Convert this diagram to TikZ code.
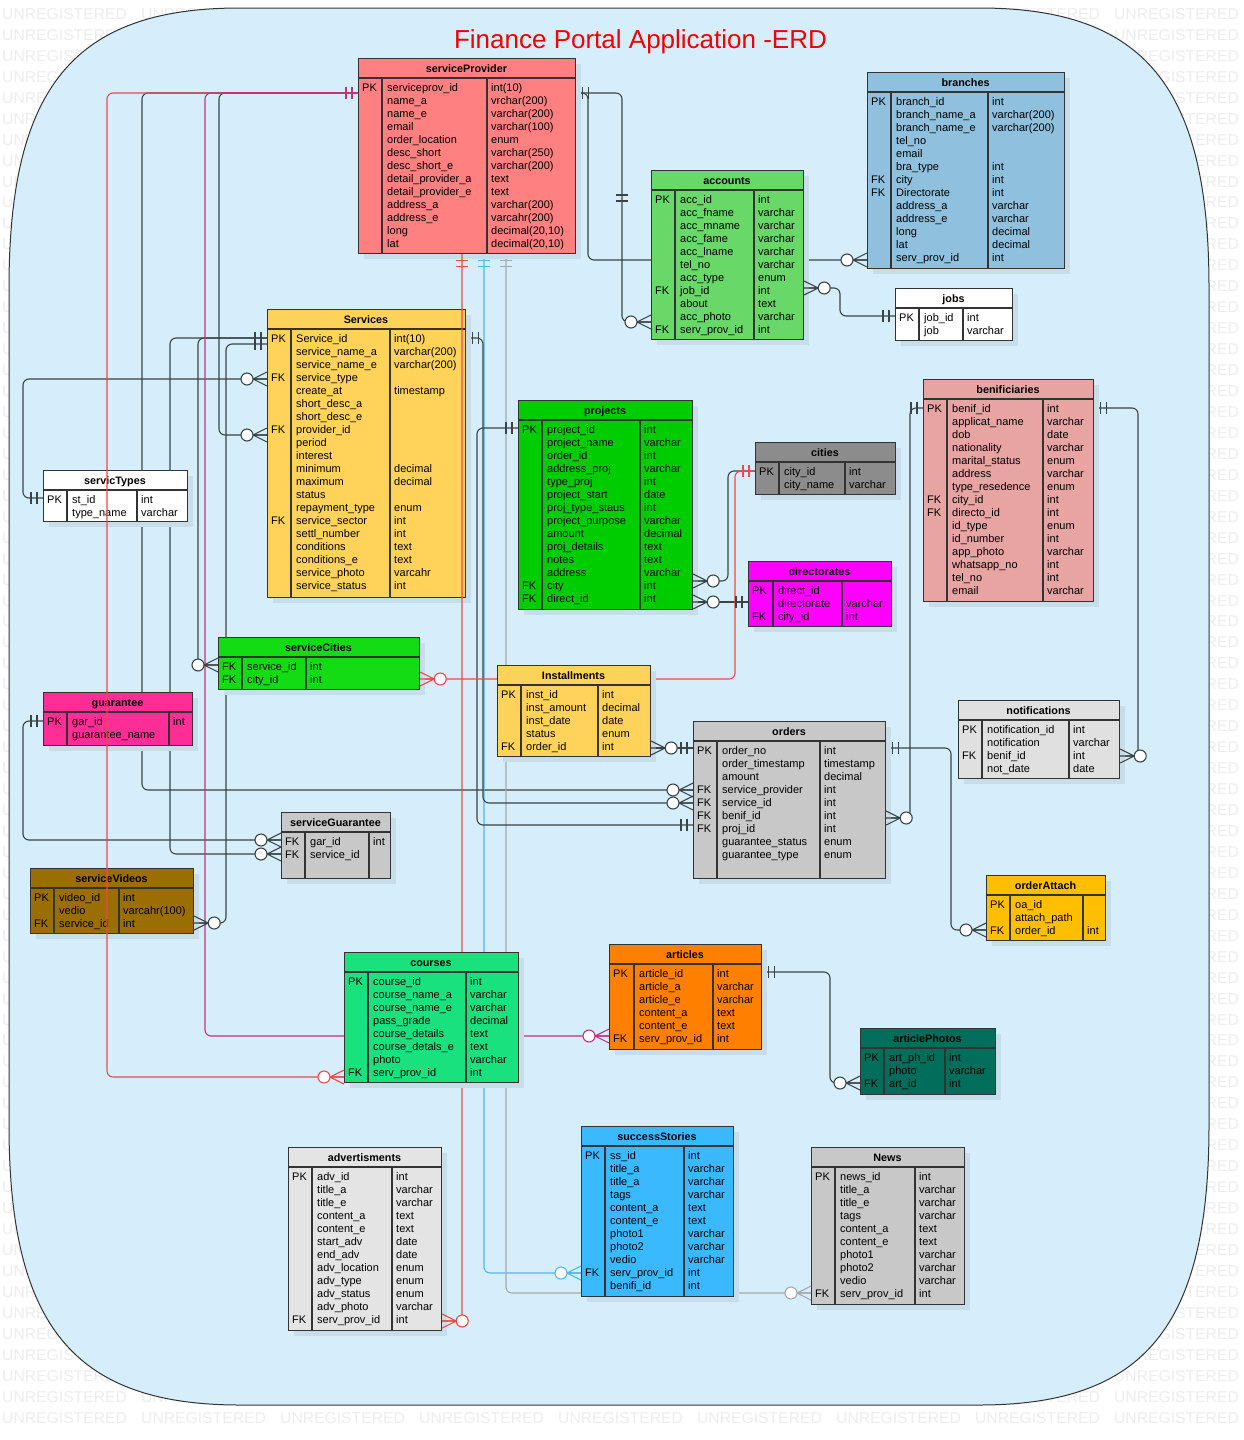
\documentclass[tikz,border=0pt]{standalone}
\usepackage{fontspec}
\setmainfont{Liberation Sans}
\usetikzlibrary{calc}
\pgfdeclarelayer{back}
\pgfdeclarelayer{bg}
\pgfdeclarelayer{over}
\pgfdeclarelayer{top}
\pgfsetlayers{back,bg,main,over,top}
\definecolor{bgblue}{HTML}{D6EEFC}
\definecolor{bordc}{HTML}{333333}
\definecolor{wmc}{HTML}{EDEDED}
\definecolor{shadowc}{HTML}{C8DDEA}
\definecolor{tblc}{HTML}{333333}
\definecolor{cLine}{HTML}{3A4444}
\definecolor{cRed}{HTML}{F04848}
\definecolor{cMag}{HTML}{C8307F}
\definecolor{cBlue}{HTML}{4DB8F5}
\definecolor{cGray}{HTML}{A8A8A8}
\definecolor{cTitle}{HTML}{F00000}
\definecolor{cSP}{HTML}{FF8080}
\definecolor{cACC}{HTML}{68D868}
\definecolor{cBR}{HTML}{8FC1DE}
\definecolor{cSRV}{HTML}{FFD35A}
\definecolor{cPRJ}{HTML}{00CD00}
\definecolor{cCIT}{HTML}{8C8C8C}
\definecolor{cDIR}{HTML}{FF00FF}
\definecolor{cBEN}{HTML}{E8A3A3}
\definecolor{cSC}{HTML}{14DC14}
\definecolor{cGAR}{HTML}{FF2D96}
\definecolor{cORD}{HTML}{C8C8C8}
\definecolor{cNTF}{HTML}{E0E0E0}
\definecolor{cSV}{HTML}{9A6E00}
\definecolor{cOA}{HTML}{FFBF00}
\definecolor{cCRS}{HTML}{19E17D}
\definecolor{cART}{HTML}{FF8000}
\definecolor{cAP}{HTML}{006E5A}
\definecolor{cADV}{HTML}{E4E4E4}
\definecolor{cSS}{HTML}{3BB9FF}
\newcommand\cma{,}
\newcommand\wmword{\makebox[139pt][l]{UNREGISTERED}}
\newcommand\wmrow{\wmword\wmword\wmword\wmword\wmword\wmword\wmword\wmword\wmword}
\tikzset{
  tblbox/.style={draw=tblc, line width=1.2pt, inner sep=0pt},
  tblln/.style={draw=tblc, line width=1.1pt},
  cell/.style={inner sep=0pt, font=\fontsize{11}{13}\selectfont},
  ttl/.style={inner sep=0pt, font=\fontsize{10.8}{13}\selectfont\bfseries},
  wm/.style={inner sep=0pt, text=wmc, font=\fontsize{15.7}{16}\selectfont},
  conn/.style={line width=1.1pt, rounded corners=6pt, draw=cLine},
  mk/.style={line width=1.1pt},
  oneL/.pic={\draw[mk] (-6,-6)--(-6,6) (-12,-6)--(-12,6);},
  oneR/.pic={\draw[mk] (6,-6)--(6,6) (12,-6)--(12,6);},
  oneD/.pic={\draw[mk] (-6,6)--(6,6) (-6,12)--(6,12);},
  oneV/.pic={\draw[mk] (-6,-3)--(6,-3) (-6,3)--(6,3);},
  manyL/.pic={\draw[mk] (0,-7)--(-14,0)--(0,7) (-14,0)--(0,0); \filldraw[mk,fill=white] (-20,0) circle[radius=6pt];},
  manyR/.pic={\draw[mk] (0,-7)--(14,0)--(0,7) (14,0)--(0,0); \filldraw[mk,fill=white] (20,0) circle[radius=6pt];},
}
% name, x, y, width, divider1, divider2, height, fill, title
\newcommand\erdtbl[9]{%
  \def\tx{#2}\def\ty{#3}\def\tda{#5}\def\tdb{#6}\def\tn{#1}%
  \fill[shadowc] (#2+6,#3+6) rectangle ++(#4,#7);
  \node[tblbox, fill=#8, minimum width=#4pt, minimum height=#7pt, anchor=north west] (#1) at (#2,#3) {};
  \node[ttl, anchor=base] (#1-title) at (#2+#4/2,#3+14) {#9};
  \draw[tblln] (#2,#3+20) -- ++(#4,0);
  \draw[tblln] (#2+#5,#3+20) -- ++(0,#7-20);
  \draw[tblln] (#2+#6,#3+20) -- ++(0,#7-20);
}
\newcommand\erdrows[1]{%
  \foreach \rK/\rF/\rT [count=\i from 0] in {#1}{%
    \node[cell,anchor=base west] (\tn-k\i) at (\tx+4,\ty+33+\i*13) {\rK};
    \node[cell,anchor=base west] (\tn-f\i) at (\tx+\tda+5,\ty+33+\i*13) {\rF};
    \node[cell,anchor=base west] (\tn-t\i) at (\tx+\tdb+4,\ty+33+\i*13) {\rT};
  }%
}
\begin{document}
\catcode`\_=12
\begin{tikzpicture}[x=1pt,y=-1pt]
\useasboundingbox (0,0) rectangle (1244,1440);
% ---------- background ----------
\begin{pgfonlayer}{back}
\fill[white] (0,0) rectangle (1244,1440);
\foreach \r in {0,...,67}{\node[wm, anchor=west] (wm\r) at (2,14+20.95*\r) {\wmrow};}
\draw[fill=bgblue, draw=bordc, line width=1pt]
  (240,8) -- (979,8) .. controls (1144.6,8) and (1209,86.4) .. (1209,288)
  -- (1209,1125) .. controls (1209,1326.6) and (1144.6,1405) .. (979,1405)
  -- (240,1405) .. controls (74.4,1405) and (9,1326.6) .. (9,1125)
  -- (9,288) .. controls (9,86.4) and (74.4,8) .. (240,8) -- cycle;
\node[inner sep=0pt, text=cTitle, font=\fontsize{26}{30}\selectfont, anchor=base] (title) at (640.5,48) {Finance Portal Application -ERD};
\end{pgfonlayer}
% ---------- tables ----------
\erdtbl{sp}{358}{58}{217}{24}{129}{195}{cSP}{serviceProvider}
\erdrows{PK/serviceprov_id/int(10), /name_a/vrchar(200), /name_e/varchar(200), /email/varchar(100), /order_location/enum, /desc_short/varchar(250), /desc_short_e/varchar(200), /detail_provider_a/text, /detail_provider_e/text, /address_a/varchar(200), /address_e/varcahr(200), /long/decimal(20\cma10), /lat/decimal(20\cma10)}
\erdtbl{acc}{651}{170}{152}{24}{103}{169}{cACC}{accounts}
\erdrows{PK/acc_id/int, /acc_fname/varchar, /acc_mname/varchar, /acc_fame/varchar, /acc_lname/varchar, /tel_no/varchar, /acc_type/enum, FK/job_id/int, /about/text, /acc_photo/varchar, FK/serv_prov_id/int}
\erdtbl{br}{867}{72}{197}{24}{121}{196}{cBR}{branches}
\erdrows{PK/branch_id/int, /branch_name_a/varchar(200), /branch_name_e/varchar(200), /tel_no/, /email/, /bra_type/int, FK/city/int, FK/Directorate/int, /address_a/varchar, /address_e/varchar, /long/decimal, /lat/decimal, /serv_prov_id/int}
\erdtbl{jobs}{895}{288}{117}{24}{68}{52}{white}{jobs}
\erdrows{PK/job_id/int, /job/varchar}
\erdtbl{srv}{267}{309}{198}{24}{123}{288}{cSRV}{Services}
\erdrows{PK/Service_id/int(10), /service_name_a/varchar(200), /service_name_e/varchar(200), FK/service_type/, /create_at/timestamp, /short_desc_a/, /short_desc_e/, FK/provider_id/, /period/, /interest/, /minimum/decimal, /maximum/decimal, /status/, /repayment_type/enum, FK/service_sector/int, /settl_number/int, /conditions/text, /conditions_e/text, /service_photo/varcahr, /service_status/int}
\erdtbl{st}{43}{470}{144}{24}{94}{51}{white}{servicTypes}
\erdrows{PK/st_id/int, /type_name/varchar}
\erdtbl{prj}{518}{400}{174}{24}{122}{209}{cPRJ}{projects}
\erdrows{PK/project_id/int, /project_name/varchar, /order_id/int, /address_proj/varchar, /type_proj/int, /project_start/date, /proj_type_staus/int, /project_purpose/varchar, /amount/decimal, /proj_details/text, /notes/text, /address/varchar, FK/city/int, FK/direct_id/int}
\erdtbl{cit}{755}{442}{140}{24}{90}{52}{cCIT}{cities}
\erdrows{PK/city_id/int, /city_name/varchar}
\erdtbl{dir}{748}{561}{143}{25}{94}{65}{cDIR}{directorates}
\erdrows{PK/direct_id/, /directorate/varchar, FK/city_id/int}
\erdtbl{ben}{923}{379}{170}{24}{120}{222}{cBEN}{benificiaries}
\erdrows{PK/benif_id/int, /applicat_name/varchar, /dob/date, /nationality/varchar, /marital_status/enum, /address/varchar, /type_resedence/enum, FK/city_id/int, FK/directo_id/int, /id_type/enum, /id_number/int, /app_photo/varchar, /whatsapp_no/int, /tel_no/int, /email/varchar}
\erdtbl{sc}{218}{637}{201}{24}{88}{52}{cSC}{serviceCities}
\erdrows{FK/service_id/int, FK/city_id/int}
\erdtbl{inst}{497}{665}{153}{24}{101}{91}{cSRV}{Installments}
\erdrows{PK/inst_id/int, /inst_amount/decimal, /inst_date/date, /status/enum, FK/order_id/int}
\erdtbl{gar}{43}{692}{149}{24}{126}{53}{cGAR}{guarantee}
\erdrows{PK/gar_id/int, /guarantee_name/}
\erdtbl{ord}{693}{721}{192}{24}{127}{157}{cORD}{orders}
\erdrows{PK/order_no/int, /order_timestamp/timestamp, /amount/decimal, FK/service_provider/int, FK/service_id/int, FK/benif_id/int, FK/proj_id/int, /guarantee_status/enum, /guarantee_type/enum}
\erdtbl{ntf}{958}{700}{161}{24}{111}{78}{cNTF}{notifications}
\erdrows{PK/notification_id/int, /notification/varchar, FK/benif_id/int, /not_date/date}
\erdtbl{sg}{281}{812}{109}{24}{88}{66}{cORD}{serviceGuarantee}
\erdrows{FK/gar_id/int, FK/service_id/}
\erdtbl{sv}{30}{868}{163}{24}{89}{65}{cSV}{serviceVideos}
\erdrows{PK/video_id/int, /vedio/varcahr(100), FK/service_id/int}
\erdtbl{oa}{986}{875}{119}{24}{97}{65}{cOA}{orderAttach}
\erdrows{PK/oa_id/, /attach_path/, FK/order_id/int}
\erdtbl{art}{609}{944}{152}{25}{104}{105}{cART}{articles}
\erdrows{PK/article_id/int, /article_a/varchar, /article_e/varchar, /content_a/text, /content_e/text, FK/serv_prov_id/int}
\erdtbl{ap}{860}{1028}{135}{24}{85}{66}{cAP}{articlePhotos}
\erdrows{PK/art_ph_id/int, /photo/varchar, FK/art_id/int}
\erdtbl{adv}{288}{1147}{153}{24}{104}{183}{cADV}{advertisments}
\erdrows{PK/adv_id/int, /title_a/varchar, /title_e/varchar, /content_a/text, /content_e/text, /start_adv/date, /end_adv/date, /adv_location/enum, /adv_type/enum, /adv_status/enum, /adv_photo/varchar, FK/serv_prov_id/int}
\erdtbl{ss}{581}{1126}{152}{24}{103}{170}{cSS}{successStories}
\erdrows{PK/ss_id/int, /title_a/varchar, /title_a/varchar, /tags/varchar, /content_a/text, /content_e/text, /photo1/varchar, /photo2/varchar, /vedio/varchar, FK/serv_prov_id/int, /benifi_id/int}
\erdtbl{news}{811}{1147}{153}{24}{104}{157}{cORD}{News}
\erdrows{PK/news_id/int, /title_a/varchar, /title_e/varchar, /tags/varchar, /content_a/text, /content_e/text, /photo1/varchar, /photo2/varchar, /vedio/varchar, FK/serv_prov_id/int}
\begin{pgfonlayer}{top}
\erdtbl{crs}{344}{952}{174}{24}{122}{130}{cCRS}{courses}
\erdrows{PK/course_id/int, /course_name_a/varchar, /course_name_e/varchar, /pass_grade/decimal, /course_details/text, /course_detals_e/text, /photo/varchar, FK/serv_prov_id/int}
\end{pgfonlayer}
% ---------- connectors behind tables ----------
\begin{pgfonlayer}{bg}
\draw[conn] (sp.west |- 0,93) -- (142,93) -- (142,790) -- (ord.west |- 0,790);
\draw[conn] (sp.west |- 0,93) -- (219,93) -- (219,435) -- (srv.west |- 0,435);
\draw[conn] (sp.east |- 0,93) -- (622,93) -- (622,322) -- (acc.west |- 0,322);
\draw[conn] (sp.east |- 0,93) -- (588,93) -- (588,260) -- (br.west |- 0,260);
\draw[conn, draw=cBlue] (sp.south -| 484,0) -- (484,1273) -- (ss.west |- 0,1273);
\draw[conn, draw=cGray] (sp.south -| 506,0) -- (506,1293) -- (news.west |- 0,1293);
\draw[conn] (srv.west |- 0,338) -- (170,338) -- (170,854) -- (sg.west |- 0,854);
\draw[conn] (srv.west |- 0,338) -- (198,338) -- (198,665) -- (sc.west |- 0,665);
\draw[conn] (srv.west |- 0,344) -- (226,344) -- (226,923) -- (sv.east |- 0,923);
\draw[conn] (srv.east |- 0,338) -- (483,338) -- (483,803) -- (ord.west |- 0,803);
\draw[conn] (prj.west |- 0,428) -- (477,428) -- (477,825) -- (ord.west |- 0,825);
\draw[conn] (st.west |- 0,498) -- (23,498) -- (23,379) -- (srv.west |- 0,379);
\draw[conn] (gar.west |- 0,721) -- (23,721) -- (23,840) -- (sg.west |- 0,840);
\draw[conn] (acc.east |- 0,288) -- (840,288) -- (840,316) -- (jobs.west |- 0,316);
\draw[conn] (cit.west |- 0,471) -- (728,471) -- (728,581) -- (prj.east |- 0,581);
\draw[conn] (dir.west |- 0,602) -- (prj.east |- 0,602);
\draw[conn, draw=cRed] (cit.west |- 0,471) -- (735,471) -- (735,679) -- (sc.east |- 0,679);
\draw[conn] (ord.west |- 0,748) -- (inst.east |- 0,748);
\draw[conn] (ben.west |- 0,408) -- (910,408) -- (910,818) -- (ord.east |- 0,818);
\draw[conn] (ord.east |- 0,748) -- (951,748) -- (951,930) -- (oa.west |- 0,930);
\draw[conn] (ben.east |- 0,408) -- (1138,408) -- (1138,756) -- (ntf.east |- 0,756);
\draw[conn] (art.east |- 0,972) -- (830,972) -- (830,1083) -- (ap.west |- 0,1083);
\end{pgfonlayer}
% ---------- connectors over tables ----------
\begin{pgfonlayer}{over}
\draw[conn, draw=cRed] (sp.west |- 0,93) -- (107,93) -- (107,1077) -- (crs.west |- 0,1077);
\draw[conn, draw=cRed] (sp.south -| 462,0) -- (462,1321) -- (adv.east |- 0,1321);
\draw[conn, draw=cMag] (sp.west |- 0,93) -- (205,93) -- (205,1036) -- (art.west |- 0,1036);
\end{pgfonlayer}
% ---------- relationship marks ----------
\begin{pgfonlayer}{top}
\pic[color=cMag] at (sp.west |- 0,93) {oneL};
\pic[color=cLine] at (sp.east |- 0,93) {oneR};
\pic[color=cLine] at (622,198) {oneV};
\pic[color=cRed] at (sp.south -| 462,0) {oneD};
\pic[color=cBlue] at (sp.south -| 484,0) {oneD};
\pic[color=cGray] at (sp.south -| 506,0) {oneD};
\pic[color=cRed] at (crs.west |- 0,1077) {manyL};
\pic[color=cMag] at (art.west |- 0,1036) {manyL};
\pic[color=cRed] at (adv.east |- 0,1321) {manyR};
\pic[color=cBlue] at (ss.west |- 0,1273) {manyL};
\pic[color=cGray] at (news.west |- 0,1293) {manyL};
\pic[color=cLine] at (ord.west |- 0,790) {manyL};
\pic[color=cLine] at (srv.west |- 0,435) {manyL};
\pic[color=cLine] at (acc.west |- 0,322) {manyL};
\pic[color=cLine] at (br.west |- 0,260) {manyL};
\pic[color=cLine] at (srv.west |- 0,338) {oneL};
\pic[color=cLine] at (srv.west |- 0,344) {oneL};
\pic[color=cLine] at (sg.west |- 0,854) {manyL};
\pic[color=cLine] at (sc.west |- 0,665) {manyL};
\pic[color=cLine] at (sv.east |- 0,923) {manyR};
\pic[color=cLine] at (srv.east |- 0,338) {oneR};
\pic[color=cLine] at (ord.west |- 0,803) {manyL};
\pic[color=cLine] at (prj.west |- 0,428) {oneL};
\pic[color=cLine] at (ord.west |- 0,825) {oneL};
\pic[color=cLine] at (st.west |- 0,498) {oneL};
\pic[color=cLine] at (srv.west |- 0,379) {manyL};
\pic[color=cLine] at (gar.west |- 0,721) {oneL};
\pic[color=cLine] at (sg.west |- 0,840) {manyL};
\pic[color=cLine] at (acc.east |- 0,288) {manyR};
\pic[color=cLine] at (jobs.west |- 0,316) {oneL};
\pic[color=cLine] at (cit.west |- 0,471) {oneL};
\pic[color=cRed] at (cit.west |- 0,471) {oneL};
\pic[color=cLine] at (prj.east |- 0,581) {manyR};
\pic[color=cLine] at (dir.west |- 0,602) {oneL};
\pic[color=cLine] at (prj.east |- 0,602) {manyR};
\pic[color=cRed] at (sc.east |- 0,679) {manyR};
\pic[color=cLine] at (ord.west |- 0,748) {oneL};
\pic[color=cLine] at (inst.east |- 0,748) {manyR};
\pic[color=cLine] at (ben.west |- 0,408) {oneL};
\pic[color=cLine] at (ord.east |- 0,818) {manyR};
\pic[color=cLine] at (ord.east |- 0,748) {oneR};
\pic[color=cLine] at (oa.west |- 0,930) {manyL};
\pic[color=cLine] at (ben.east |- 0,408) {oneR};
\pic[color=cLine] at (ntf.east |- 0,756) {manyR};
\pic[color=cLine] at (art.east |- 0,972) {oneR};
\pic[color=cLine] at (ap.west |- 0,1083) {manyL};
\end{pgfonlayer}
\end{tikzpicture}
\end{document}
